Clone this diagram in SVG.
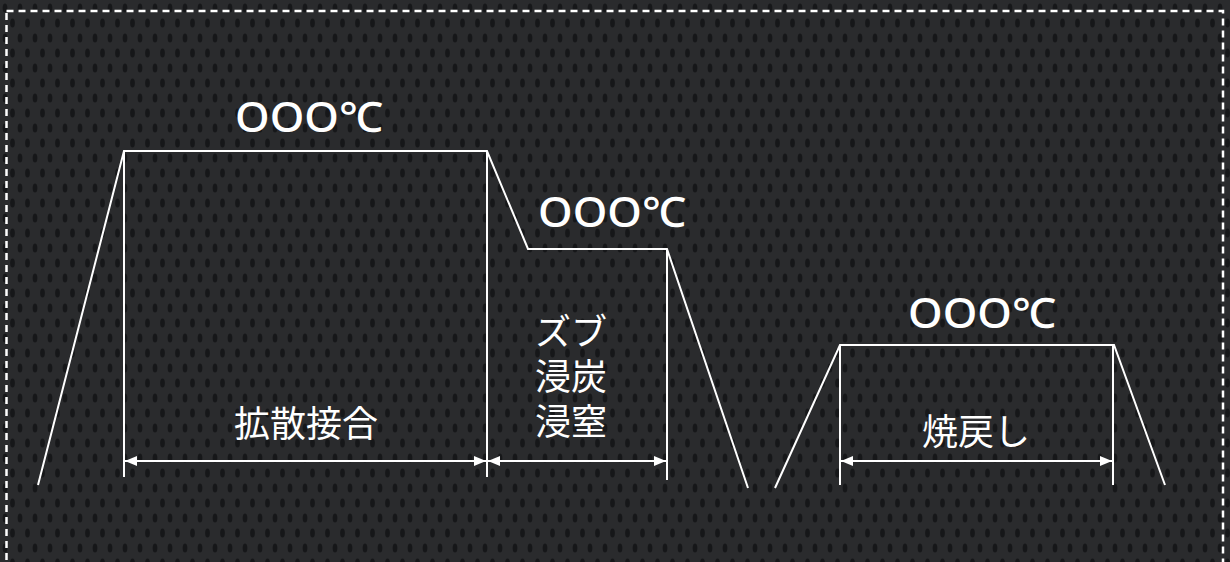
<svg xmlns="http://www.w3.org/2000/svg" width="1230" height="562" viewBox="0 0 1230 562">
  <defs>
    <pattern id="dots" width="15" height="30" patternUnits="userSpaceOnUse" x="0" y="0">
      <rect width="15" height="30" fill="#2a2b2d"/>
      <ellipse cx="5" cy="8" rx="2.4" ry="4.5" fill="#161719"/>
      <ellipse cx="12.5" cy="23" rx="2.4" ry="4.5" fill="#161719"/>
    </pattern>
    <marker id="arr" viewBox="0 0 12 10" refX="12" refY="5" markerWidth="12" markerHeight="10" markerUnits="userSpaceOnUse" orient="auto-start-reverse">
      <path d="M0,0 L12,5 L0,10 Z" fill="#ffffff"/>
    </marker>
  </defs>
  <style>
    .ln { stroke: #ffffff; stroke-width: 2; fill: none; }
    .dim { stroke: #ffffff; stroke-width: 2; fill: none; marker-start: url(#arr); marker-end: url(#arr); }
    .temp { font-family: "Noto Sans", "Noto Sans CJK JP", sans-serif; font-size: 42px; font-weight: 500; fill: #ffffff; text-anchor: middle; }
    .lab { font-family: "Noto Sans CJK JP", sans-serif; font-size: 36px; fill: #ffffff; text-anchor: middle; }
  </style>
  <rect x="0" y="0" width="1230" height="562" fill="url(#dots)"/>
  <rect x="6.5" y="11" width="1216.5" height="570" fill="none" stroke="#ffffff" stroke-width="2.5" stroke-dasharray="7 5"/>

  <g id="profile-1">
    <polyline class="ln" points="38,485 124,151 487,151 528,249 667,249 748,488"/>
    <line class="ln" x1="124" y1="151" x2="124" y2="477"/>
    <line class="ln" x1="487" y1="151" x2="487" y2="477"/>
    <line class="ln" x1="667" y1="249" x2="667" y2="480"/>
    <text class="temp" x="309" y="132" textLength="148" lengthAdjust="spacingAndGlyphs">OOO℃</text>
    <text class="temp" x="612" y="227" textLength="148" lengthAdjust="spacingAndGlyphs">OOO℃</text>
  </g>

  <g id="node-diffusion">
    <text class="lab" x="306" y="437" font-size="37">拡散接合</text>
  </g>

  <g id="node-carb">
    <text class="lab" x="571" y="345"><tspan x="571" y="345">ズブ</tspan><tspan x="571" y="390">浸炭</tspan><tspan x="571" y="435">浸窒</tspan></text>
  </g>

  <g id="profile-2">
    <polyline class="ln" points="775,488 840,345 1114,345 1165,485"/>
    <line class="ln" x1="840" y1="345" x2="840" y2="485"/>
    <line class="ln" x1="1113" y1="345" x2="1113" y2="485"/>
    <text class="temp" x="982" y="328" textLength="148" lengthAdjust="spacingAndGlyphs">OOO℃</text>
    <text class="lab" x="976" y="445">焼戻し</text>
  </g>

  <g id="connectors">
    <line class="dim" x1="125" y1="461" x2="486" y2="461"/>
    <line class="dim" x1="488" y1="461" x2="666" y2="461"/>
    <line class="dim" x1="841" y1="461" x2="1112" y2="461"/>
  </g>
</svg>
